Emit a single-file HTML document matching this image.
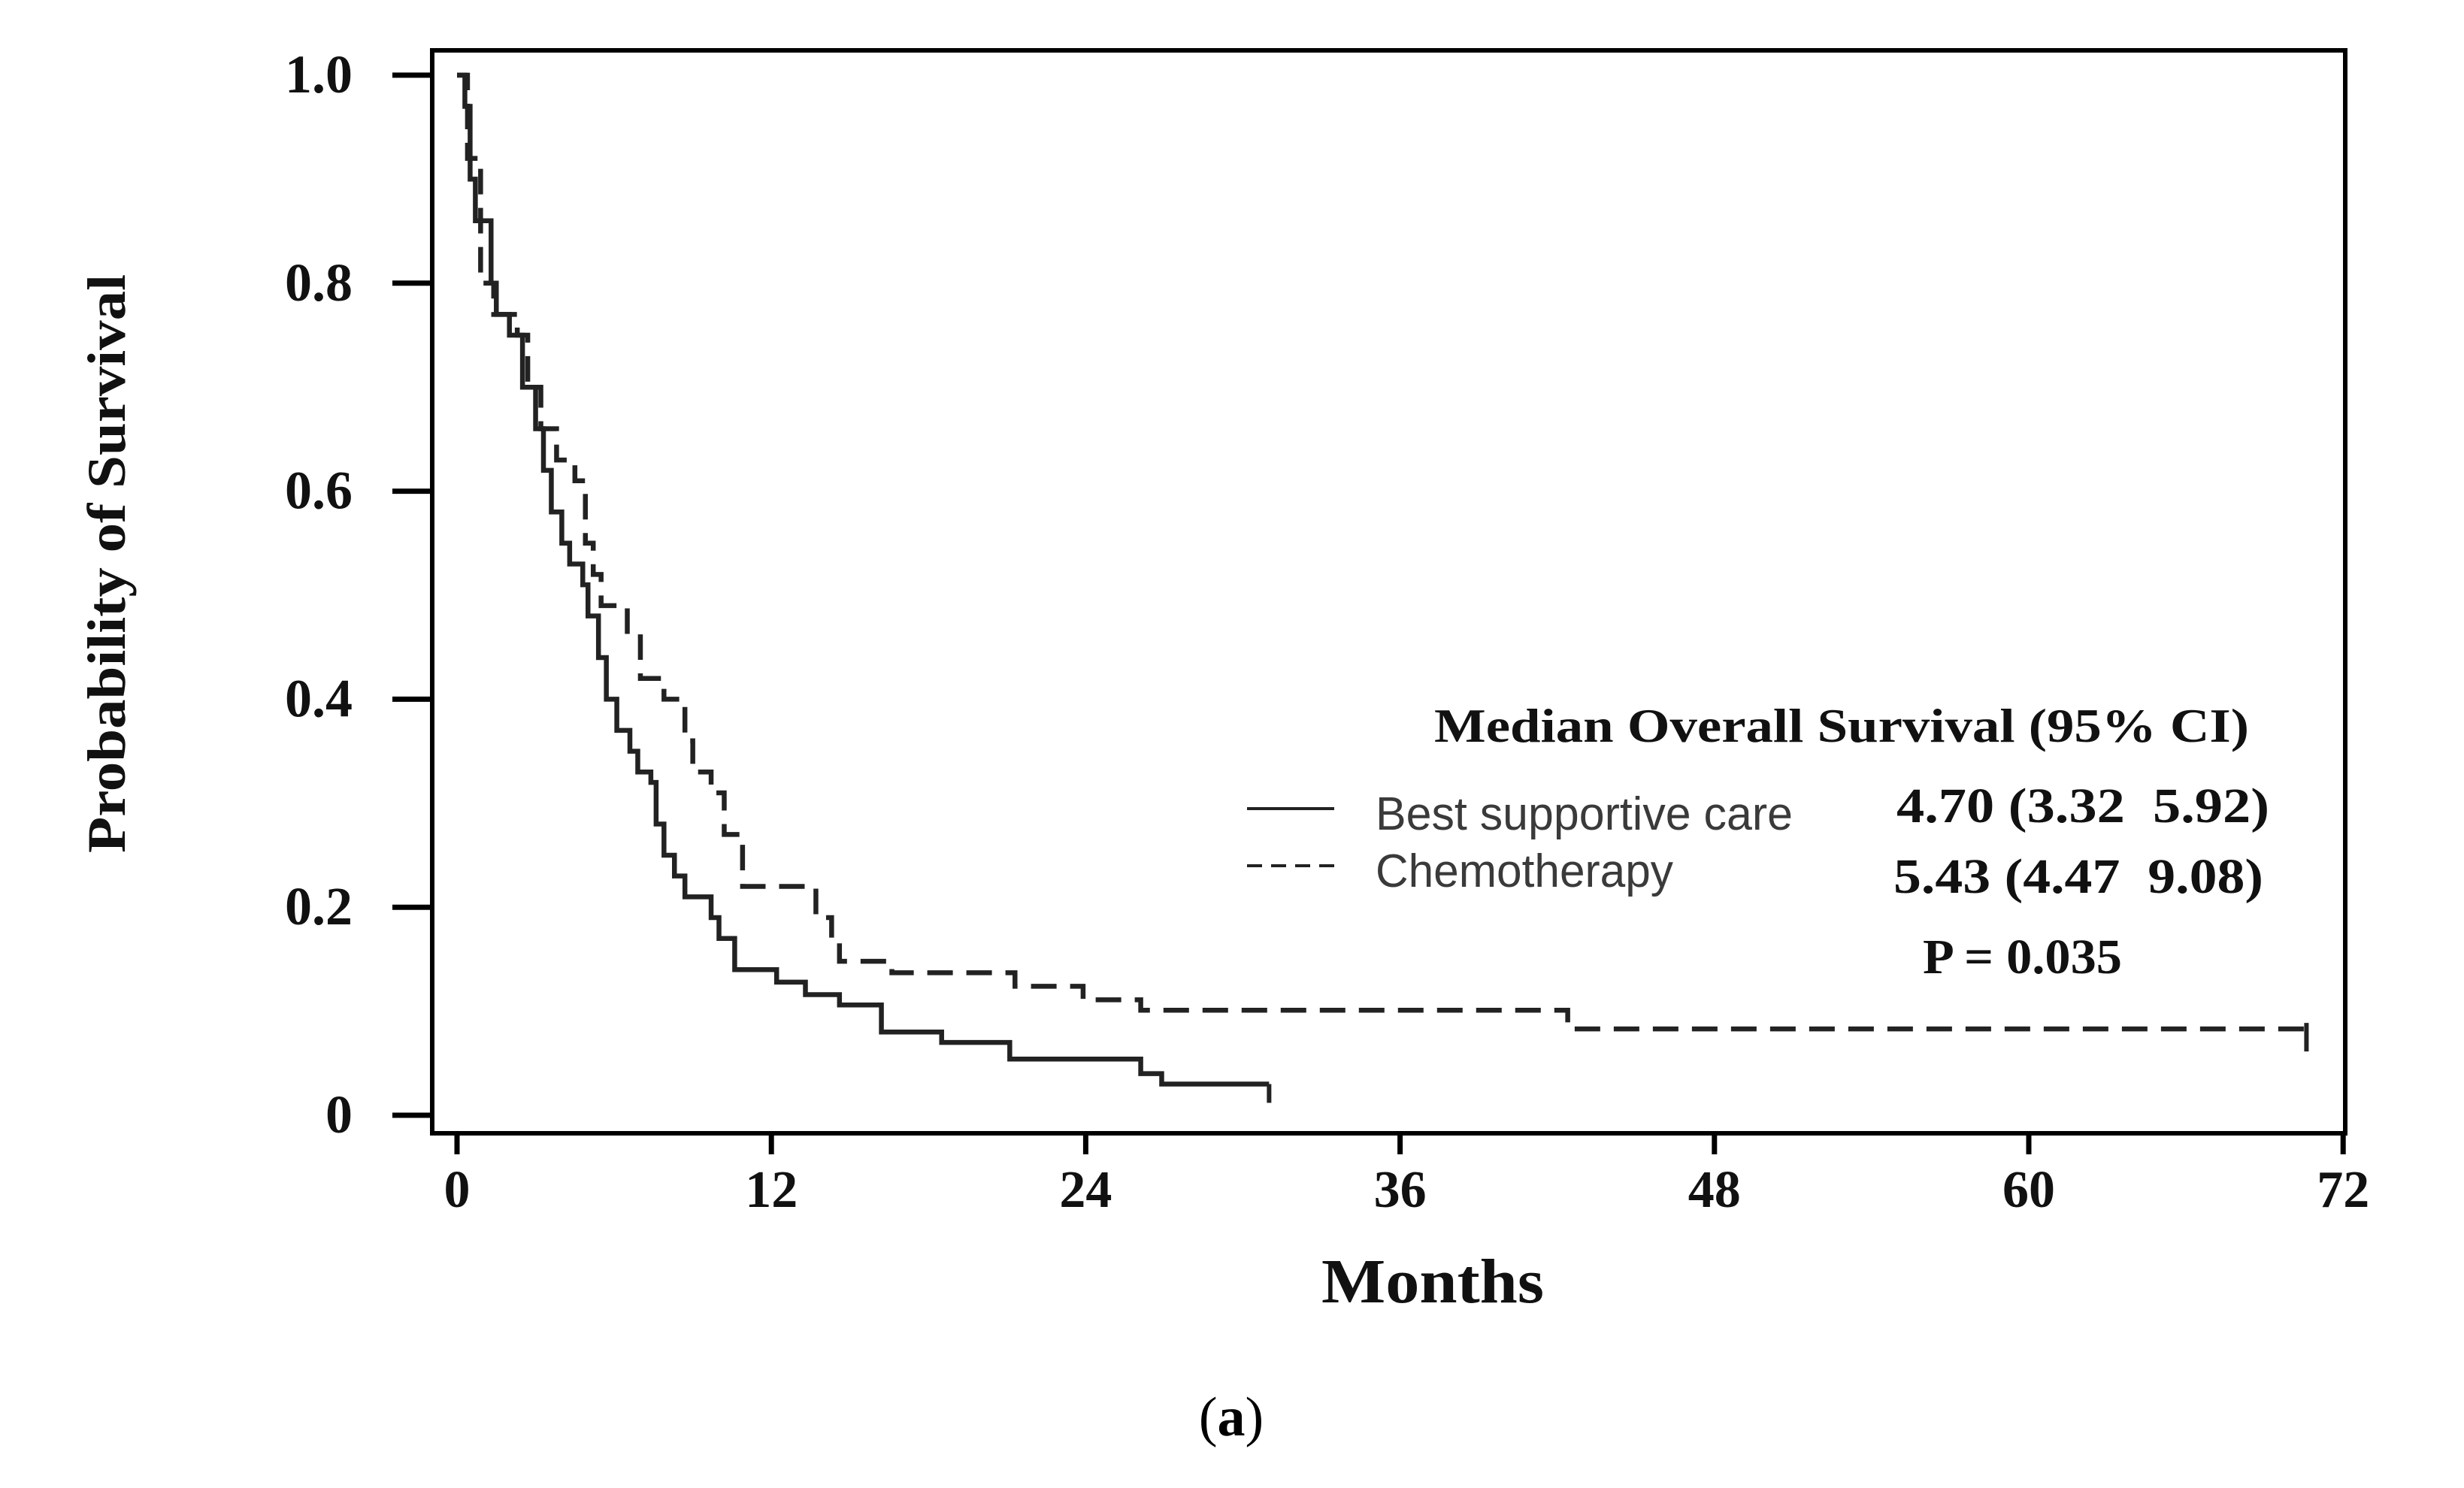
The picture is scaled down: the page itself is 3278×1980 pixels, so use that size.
<!DOCTYPE html>
<html><head><meta charset="utf-8"><style>
html,body{margin:0;padding:0;background:#fff;}
svg{display:block;}
</style></head><body>
<svg id="chart" width="3278" height="1980" viewBox="0 0 3278 1980" xmlns="http://www.w3.org/2000/svg">
<rect x="0" y="0" width="3278" height="1980" fill="#fff"/>
<rect x="575" y="67" width="2545" height="1441" fill="none" stroke="#000" stroke-width="6"/>
<g id="ticks"></g>
<g id="curves"></g>
<text transform="translate(166,750) rotate(-90)" text-anchor="middle" font-family="Liberation Serif, serif" font-weight="bold" font-size="72" textLength="770" lengthAdjust="spacingAndGlyphs" fill="#111">Probability of Survival</text>
<text x="1906" y="1733" text-anchor="middle" font-family="Liberation Serif, serif" font-weight="bold" font-size="84" textLength="296" lengthAdjust="spacingAndGlyphs" fill="#111">Months</text>
<text x="1638" y="1910" text-anchor="middle" font-family="Liberation Serif, serif" font-size="74" fill="#000">(<tspan font-weight="bold">a</tspan>)</text>
<text x="1908" y="987" font-family="Liberation Serif, serif" font-weight="bold" font-size="64" textLength="1084" lengthAdjust="spacingAndGlyphs" fill="#111">Median Overall Survival (95% CI)</text>
<line x1="1659" y1="1076" x2="1775" y2="1076" stroke="#222" stroke-width="4"/>
<line x1="1659" y1="1152" x2="1775" y2="1152" stroke="#222" stroke-width="4" stroke-dasharray="20,12"/>
<text x="1830" y="1104" font-family="Liberation Sans, sans-serif" font-size="62" textLength="555" lengthAdjust="spacingAndGlyphs" fill="#3a3a3a">Best supportive care</text>
<text x="1830" y="1180" font-family="Liberation Sans, sans-serif" font-size="62" textLength="396" lengthAdjust="spacingAndGlyphs" fill="#3a3a3a">Chemotherapy</text>
<text x="2523" y="1094" font-family="Liberation Serif, serif" font-weight="bold" font-size="66" textLength="496" lengthAdjust="spacingAndGlyphs" fill="#111" xml:space="preserve">4.70 (3.32  5.92)</text>
<text x="2519" y="1188" font-family="Liberation Serif, serif" font-weight="bold" font-size="66" textLength="492" lengthAdjust="spacingAndGlyphs" fill="#111" xml:space="preserve">5.43 (4.47  9.08)</text>
<text x="2558" y="1295" font-family="Liberation Serif, serif" font-weight="bold" font-size="66" textLength="265" lengthAdjust="spacingAndGlyphs" fill="#111">P = 0.035</text>
</svg>
<script>
const xTicks = [0, 12, 24, 36, 48, 60, 72];
const yTicks = [0, 0.2, 0.4, 0.6, 0.8, 1.0];
const yTickLabels = ["0", "0.2", "0.4", "0.6", "0.8", "1.0"];
const bscTimes = [0, 0.3, 0.5, 0.7, 1.3, 1.5, 2.0, 2.5, 3.0, 3.3, 3.6, 4.0, 4.3, 4.8, 5.0, 5.4, 5.7, 6.1, 6.6, 6.9, 7.4, 7.6, 7.9, 8.3, 8.7, 9.7, 10.0, 10.6, 12.2, 13.3, 14.6, 16.2, 18.5, 21.1, 26.1, 26.9];
const bscSurv = [1.0, 0.97, 0.90, 0.86, 0.80, 0.77, 0.75, 0.70, 0.66, 0.62, 0.58, 0.55, 0.53, 0.51, 0.48, 0.44, 0.40, 0.37, 0.35, 0.33, 0.32, 0.28, 0.25, 0.23, 0.21, 0.19, 0.17, 0.14, 0.128, 0.116, 0.106, 0.08, 0.07, 0.054, 0.04, 0.03];
const bscEnd = 31.0;
const chemoTimes = [0, 0.4, 0.9, 1.4, 2.3, 2.7, 3.2, 3.8, 4.5, 4.9, 5.2, 5.5, 6.5, 7.0, 7.9, 8.7, 9.0, 9.7, 10.2, 10.9, 13.7, 14.3, 14.6, 16.6, 21.3, 23.9, 26.1, 42.4];
const chemoSurv = [1.0, 0.92, 0.80, 0.77, 0.75, 0.70, 0.66, 0.63, 0.61, 0.55, 0.52, 0.49, 0.46, 0.42, 0.40, 0.36, 0.33, 0.31, 0.27, 0.22, 0.19, 0.17, 0.148, 0.137, 0.124, 0.111, 0.101, 0.083];
const chemoEnd = 70.6;

const NS = "http://www.w3.org/2000/svg";
function xs(m){ return 608 + m * 34.85; }
function ys(v){ return 1484 - v * 1384; }
const tg = document.getElementById('ticks');
function mk(tag, attrs){ const e = document.createElementNS(NS, tag); for (const k in attrs) e.setAttribute(k, attrs[k]); return e; }
xTicks.forEach(t => {
  const l = mk('line', {x1: xs(t), x2: xs(t), y1: 1508, y2: 1536, stroke: '#000', 'stroke-width': 7});
  
  
  tg.appendChild(l);
  const tx = mk('text', {x: xs(t), y: 1606, 'text-anchor': 'middle', 'font-family': 'Liberation Serif, serif', 'font-weight': 'bold', 'font-size': 70, fill: '#111'});
  tx.textContent = String(t);
  
  
  tg.appendChild(tx);
});
yTicks.forEach((t, i) => {
  const l = mk('line', {x1: 522, x2: 575, y1: ys(t), y2: ys(t), stroke: '#000', 'stroke-width': 7});
  
  
  tg.appendChild(l);
  const tx = mk('text', {x: 469, y: ys(t) + 23, 'text-anchor': 'end', 'font-family': 'Liberation Serif, serif', 'font-weight': 'bold', 'font-size': 72, fill: '#111'});
  tx.textContent = yTickLabels[i];
  
  
  tg.appendChild(tx);
});
function stepPath(times, surv, end){
  let d = 'M' + xs(times[0]) + ' ' + ys(surv[0]);
  for (let i = 1; i < times.length; i++){
    d += ' H' + xs(times[i]) + ' V' + ys(surv[i]);
  }
  d += ' H' + xs(end);
  return d;
}
const cg = document.getElementById('curves');
const p1 = mk('path', {d: stepPath(bscTimes, bscSurv, bscEnd), fill: 'none', stroke: '#222', 'stroke-width': 6.5});


cg.appendChild(p1);
const c1 = mk('line', {x1: xs(bscEnd), x2: xs(bscEnd), y1: ys(bscSurv[bscSurv.length-1]), y2: ys(bscSurv[bscSurv.length-1]) + 25, stroke: '#222', 'stroke-width': 6});


cg.appendChild(c1);
const p2 = mk('path', {d: stepPath(chemoTimes, chemoSurv, chemoEnd), fill: 'none', stroke: '#222', 'stroke-width': 6.5, 'stroke-dasharray': '34,18'});


cg.appendChild(p2);
const c2 = mk('line', {x1: xs(chemoEnd), x2: xs(chemoEnd), y1: ys(chemoSurv[chemoSurv.length-1]) - 8, y2: ys(chemoSurv[chemoSurv.length-1]) + 30, stroke: '#222', 'stroke-width': 6});


cg.appendChild(c2);
</script>
</body></html>
